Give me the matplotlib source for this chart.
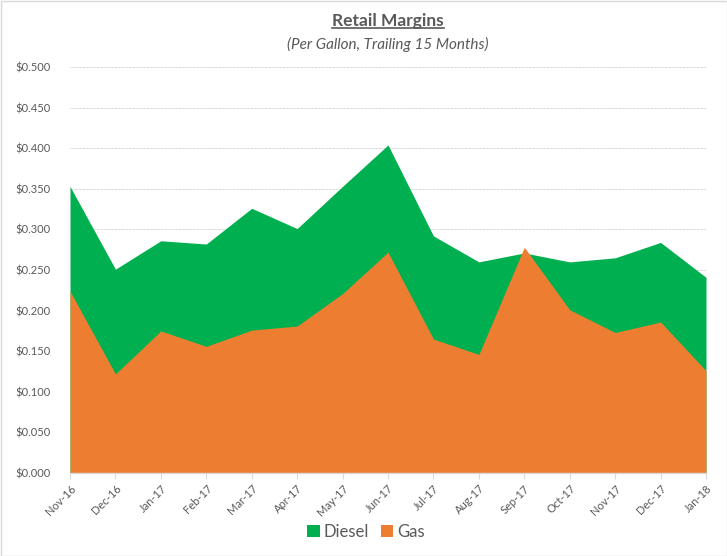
import matplotlib
matplotlib.use("Agg")
import matplotlib.pyplot as plt
from matplotlib.lines import Line2D
from matplotlib.patches import Rectangle
import numpy as np

months = ["Nov-16", "Dec-16", "Jan-17", "Feb-17", "Mar-17", "Apr-17", "May-17", "Jun-17",
          "Jul-17", "Aug-17", "Sep-17", "Oct-17", "Nov-17", "Dec-17", "Jan-18"]
diesel = [0.353, 0.251, 0.286, 0.282, 0.326, 0.301, 0.353, 0.404,
          0.292, 0.260, 0.271, 0.260, 0.265, 0.284, 0.241]
gas = [0.224, 0.122, 0.175, 0.156, 0.176, 0.181, 0.221, 0.272,
       0.165, 0.146, 0.278, 0.201, 0.173, 0.186, 0.126]
yticks = [0.0, 0.05, 0.1, 0.15, 0.2, 0.25, 0.3, 0.35, 0.4, 0.45, 0.5]

plt.rcParams['font.family'] = ['Lato', 'DejaVu Sans']
GREEN = "#00B050"
ORANGE = "#ED7D31"
GRAY = "#595959"

fig = plt.figure(figsize=(7.27, 5.56), dpi=100)
ax = fig.add_axes([70/727, 83/556, 636/727, 406/556])

x = np.arange(len(months))
ax.fill_between(x, 0, diesel, color=GREEN, linewidth=0, label="Diesel", zorder=2)
ax.fill_between(x, 0, gas, color=ORANGE, linewidth=0, label="Gas", zorder=3)

ax.set_xlim(0, len(months) - 1)
ax.set_ylim(0, 0.5)
ax.set_yticks(yticks)
ax.set_yticklabels([f"${v:.3f}" for v in yticks])
ax.set_xticks(x)
ax.set_xticklabels(months, rotation=45, ha="right", rotation_mode="anchor")
ax.tick_params(axis="y", length=0, pad=14, labelsize=8, labelcolor=GRAY)
ax.tick_params(axis="x", length=4, width=0.8, color="#D9D9D9", pad=3, labelsize=8, labelcolor=GRAY)
ax.grid(axis="y", color="#B0B0B0", linestyle=(0, (1, 1)), linewidth=0.5, zorder=1)
ax.set_axisbelow(True)
for s in ["left", "right", "top"]:
    ax.spines[s].set_visible(False)
ax.spines["bottom"].set_color("#D9D9D9")
ax.spines["bottom"].set_linewidth(1)
ax.spines["bottom"].set_zorder(4)

cx = (70 + 706) / 2 / 727
title = fig.text(cx, 1 - 21/556, "Retail Margins", ha="center", va="center",
                 fontsize=12.5, fontweight="bold", color=GRAY)
fig.text(cx, 1 - 44/556, "(Per Gallon, Trailing 15 Months)", ha="center", va="center",
         fontsize=11, fontstyle="italic", color=GRAY)

leg = fig.legend(loc="center", bbox_to_anchor=(366/727, 1 - 532/556), ncol=2, frameon=False,
                 fontsize=12, handlelength=0.75, handleheight=0.75, handletextpad=0.25,
                 columnspacing=0.7, borderaxespad=0)
for t in leg.get_texts():
    t.set_color(GRAY)

fig.canvas.draw()
r = fig.canvas.get_renderer()
bb = title.get_window_extent(renderer=r).transformed(fig.transFigure.inverted())
fig.add_artist(Line2D([bb.x0, bb.x1], [bb.y0 + 0.001, bb.y0 + 0.001], transform=fig.transFigure,
                      color=GRAY, linewidth=1.2))

fig.add_artist(Rectangle((0.5/727, 0.5/556), 1 - 1/727, 1 - 1/556, transform=fig.transFigure,
                         fill=False, edgecolor="#D9D9D9", linewidth=1))

fig.savefig("out.png", dpi=100)
